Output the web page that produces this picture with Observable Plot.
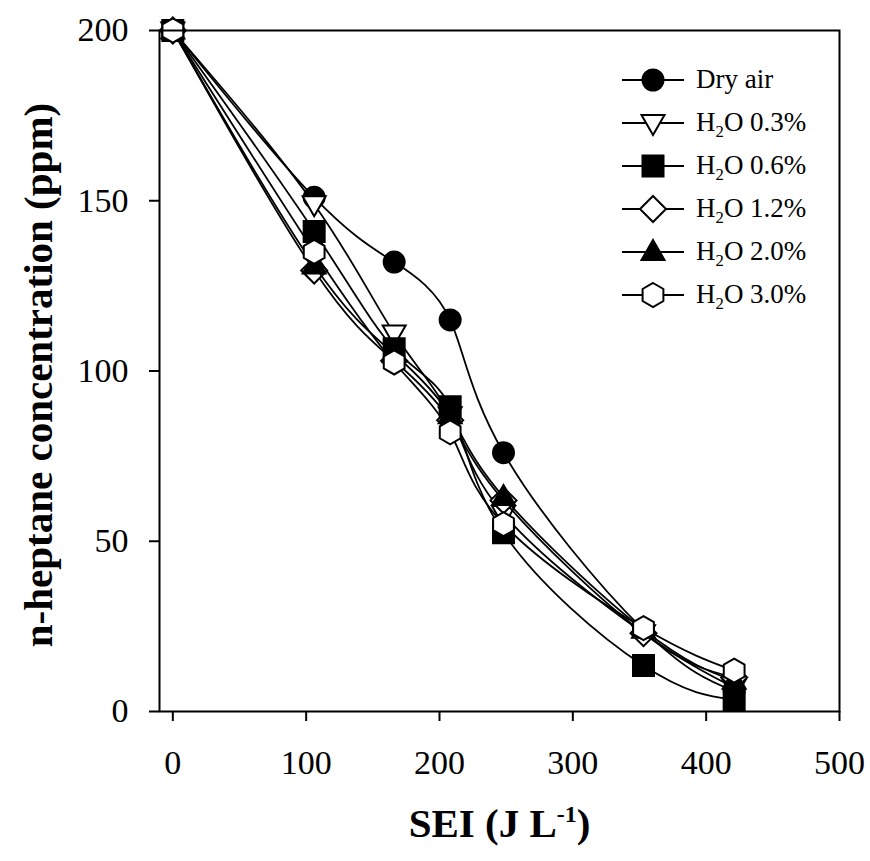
<!DOCTYPE html>
<html><head><meta charset="utf-8">
<script src="https://cdn.jsdelivr.net/npm/d3@7"></script>
<script src="https://cdn.jsdelivr.net/npm/@observablehq/plot@0.6"></script>
<style>
html,body{margin:0;padding:0;background:#fff;}
#chart{position:relative;width:870px;height:861px;}
#legend{position:absolute;left:622px;top:58px;font-family:"Liberation Serif",serif;font-size:27px;color:#000;}
.row{display:flex;align-items:center;height:43px;white-space:nowrap;}
.row svg{margin-right:12px;overflow:visible;}
sub{font-size:0.62em;vertical-align:-0.35em;line-height:0;}
</style></head><body><div id="chart"><div id="legend"></div></div>
<script>
// ---- data ----
const sei = [0, 106, 166, 208, 248, 353, 421];
const dryAir = [200, 151, 132, 115, 76, 24, 6];
const h2o03 = [200, 149, 111, 87, 58, 23, 7];
const h2o06 = [200, 141, 106.5, 89.5, 52.5, 13.5, 3.5];
const h2o12 = [200, 129.5, 103, 85.5, 62, 23, 10];
const h2o20 = [200, 131, 105, 87, 63, 24, 9];
const h2o30 = [200, 135, 102.5, 82, 55, 24.5, 12];
const seriesNames = ["Dry air", "H2O 0.3%", "H2O 0.6%", "H2O 1.2%", "H2O 2.0%", "H2O 3.0%"];
const xTicks = [0, 100, 200, 300, 400, 500];
const yTicks = [0, 50, 100, 150, 200];
const xTitle = "SEI (J L-1)";
const yTitle = "n-heptane concentration (ppm)";

// ---- symbols ----
const sym = (fn) => ({draw(c, size) { fn(c, Math.sqrt(size / Math.PI)); }});
const symCircle = sym((c, s) => { const r = 1.05 * s; c.moveTo(r, 0); c.arc(0, 0, r, 0, 2 * Math.PI); c.closePath(); });
const symTriDown = sym((c, s) => { const w = 1.15 * s; c.moveTo(-w, -0.8 * s); c.lineTo(w, -0.8 * s); c.lineTo(0, 1.2 * s); c.closePath(); });
const symSquare = sym((c, s) => { const h = 1.05 * s; c.moveTo(-h, -h); c.lineTo(h, -h); c.lineTo(h, h); c.lineTo(-h, h); c.closePath(); });
const symDiamond = sym((c, s) => { const h = 1.3 * s; c.moveTo(0, -h); c.lineTo(h, 0); c.lineTo(0, h); c.lineTo(-h, 0); c.closePath(); });
const symTriUp = sym((c, s) => { const w = 1.15 * s; c.moveTo(0, -1.2 * s); c.lineTo(w, 0.8 * s); c.lineTo(-w, 0.8 * s); c.closePath(); });
const symHex = sym((c, s) => { const r = 1.2 * s; for (let i = 0; i < 6; i++) { const a = Math.PI / 3 * i - Math.PI / 2; const px = r * Math.cos(a), py = r * Math.sin(a); if (i) c.lineTo(px, py); else c.moveTo(px, py); } c.closePath(); });

const series = [
  {name: seriesNames[0], values: dryAir, symbol: symCircle, fill: "black"},
  {name: seriesNames[1], values: h2o03, symbol: symTriDown, fill: "white"},
  {name: seriesNames[2], values: h2o06, symbol: symSquare, fill: "black"},
  {name: seriesNames[3], values: h2o12, symbol: symDiamond, fill: "white"},
  {name: seriesNames[4], values: h2o20, symbol: symTriUp, fill: "black"},
  {name: seriesNames[5], values: h2o30, symbol: symHex, fill: "white"}
];

const marks = [];
series.forEach(s => {
  const data = sei.map((x, i) => ({x, y: s.values[i]}));
  marks.push(Plot.line(data, {x: "x", y: "y", curve: "natural", stroke: "black", strokeWidth: 1.8}));
  marks.push(Plot.dot(data, {x: "x", y: "y", r: 10, symbol: s.symbol, fill: s.fill, stroke: "black", strokeWidth: 2}));
});

const svg = Plot.plot({
  width: 870, height: 861,
  marginLeft: 159, marginRight: 31, marginTop: 30, marginBottom: 150,
  style: {fontFamily: "Liberation Serif, serif", fontSize: "34px", background: "white", overflow: "visible", color: "black"},
  x: {domain: [-10, 500]},
  y: {domain: [0, 200]},
  marks: [
    Plot.axisX({ticks: xTicks, tickSize: 10, tickPadding: 28, strokeWidth: 2, tickFormat: d3.format("d"), label: null, fontSize: 34}),
    Plot.axisY({ticks: yTicks, tickSize: 10, tickPadding: 21, strokeWidth: 2, tickFormat: d3.format("d"), label: null, fontSize: 34}),
    ...marks,
    Plot.frame({stroke: "black", strokeWidth: 2}),
    Plot.text([xTitle], {frameAnchor: "bottom", text: d => d, lineAnchor: "middle", textAnchor: "middle", dy: 112, fontSize: 41, fontWeight: "bold"}),
    Plot.text([yTitle], {frameAnchor: "left", text: d => d, rotate: -90, lineAnchor: "middle", textAnchor: "middle", dx: -121, dy: 4, fontSize: 41, fontWeight: "bold"})
  ]
});

// superscript in x title
d3.select(svg).selectAll("text").filter(function() { return this.textContent === xTitle; }).each(function() {
  const t = d3.select(this);
  t.text(null);
  t.append("tspan").text("SEI (J L");
  t.append("tspan").attr("font-size", "24px").attr("dy", "-15").text("-1");
  t.append("tspan").attr("dy", "15").text(")");
});

document.getElementById("chart").prepend(svg);

// legend
const legend = d3.select("#legend");
series.forEach(s => {
  const row = legend.append("div").attr("class", "row");
  const ls = row.append("svg").attr("width", 62).attr("height", 30);
  ls.append("line").attr("x1", 0).attr("x2", 62).attr("y1", 15).attr("y2", 15).attr("stroke", "black").attr("stroke-width", 2);
  const p = d3.path(); s.symbol.draw(p, 100 * Math.PI);
  ls.append("path").attr("d", p.toString()).attr("transform", "translate(31,15)").attr("fill", s.fill).attr("stroke", "black").attr("stroke-width", 2);
  row.append("span").html(s.name.replace("H2O", "H<sub>2</sub>O"));
});
</script>
</body></html>
